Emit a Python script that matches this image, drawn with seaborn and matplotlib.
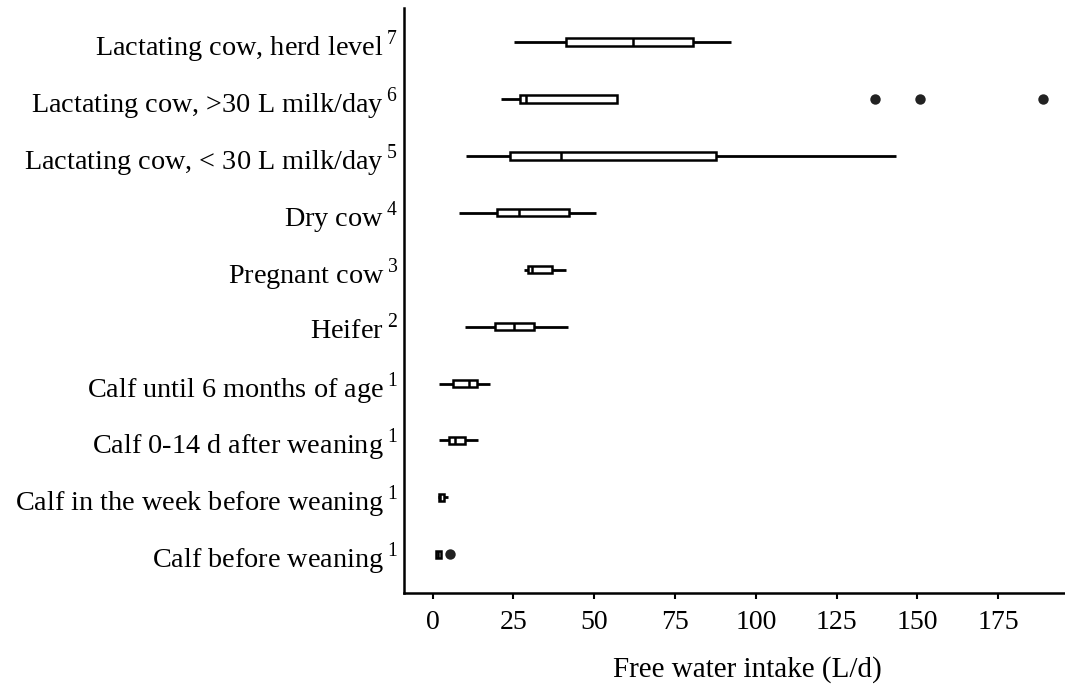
import numpy as np
import pandas as pd
import matplotlib
import matplotlib.pyplot as plt
import seaborn as sns
matplotlib.use('Agg')

# categories, top to bottom, with their footnote numbers
groups = ["Lactating cow, herd level", "Lactating cow, >30 L milk/day",
          "Lactating cow, < 30 L milk/day", "Dry cow", "Pregnant cow", "Heifer",
          "Calf until 6 months of age", "Calf 0-14 d after weaning",
          "Calf in the week before weaning", "Calf before weaning"]
footnotes = ["7", "6", "5", "4", "3", "2", "1", "1", "1", "1"]

# box statistics (L/d)
whisker_lo = [25.1, 21.0, 10.4, 8.1, 28.2, 9.9, 2.0, 2.0, 1.5, 0.9]
q1 = [41.2, 27.1, 24.0, 19.9, 29.5, 19.2, 6.3, 5.0, 1.9, 0.9]
median = [62.0, 29.0, 39.6, 26.7, 30.7, 25.2, 11.1, 6.8, 2.4, 1.6]
q3 = [80.5, 57.0, 87.6, 42.1, 36.9, 31.4, 13.7, 10.1, 3.4, 2.7]
whisker_hi = [92.3, 57.0, 143.3, 50.5, 41.2, 41.9, 17.6, 14.0, 4.8, 2.7]

outlier_group = ["Lactating cow, >30 L milk/day"] * 3 + ["Calf before weaning"]
outlier_value = [137.0, 150.8, 188.9, 5.3]

rows = []
for i, g in enumerate(groups):
    for v in (whisker_lo[i], q1[i], median[i], q3[i], whisker_hi[i]):
        rows.append({"group": g, "intake": v})
df = pd.DataFrame(rows)
df_out = pd.DataFrame({"group": outlier_group, "intake": outlier_value})

sns.set_style("white")
plt.rcParams['font.family'] = ['Liberation Serif', 'DejaVu Serif']
plt.rcParams['mathtext.fontset'] = 'custom'
plt.rcParams['mathtext.rm'] = 'Liberation Serif'
plt.rcParams['text.color'] = 'black'
plt.rcParams['xtick.color'] = 'black'
plt.rcParams['ytick.color'] = 'black'
plt.rcParams['axes.labelcolor'] = 'black'

fig = plt.figure(figsize=(10.65, 6.86), dpi=100)
ax = fig.add_axes([0.379, 0.1356, 0.621, 0.853])

sns.boxplot(data=df, x="intake", y="group", order=groups, ax=ax,
            width=0.13, color="white", linecolor="black", linewidth=1.8,
            whis=(0, 100), showcaps=False, fliersize=0,
            whiskerprops={"linewidth": 2.0})
sns.stripplot(data=df_out, x="intake", y="group", order=groups, ax=ax,
              jitter=False, color="#222222", size=7.5)

ax.set_xlim(-9.0, 195.7)
ax.set_ylim(9.68, -0.6)
ax.set_xticks([0, 25, 50, 75, 100, 125, 150, 175])
ax.set_yticks(range(len(groups)))
ax.set_yticklabels([f"{g}$\\,^{{{s}}}$" for g, s in zip(groups, footnotes)], fontsize=20.3)
ax.tick_params(axis="x", labelsize=20, length=4, width=1.5, direction="out", pad=8, bottom=True)
ax.tick_params(axis="y", length=0, pad=4)
ax.set_xlabel("Free water intake (L/d)", fontsize=21)
ax.xaxis.set_label_coords(0.519, -0.108)
ax.set_ylabel("")

for side in ["top", "right"]:
    ax.spines[side].set_visible(False)
for side in ["left", "bottom"]:
    ax.spines[side].set_linewidth(1.8)
    ax.spines[side].set_color("black")

plt.savefig("out.png", dpi=100)
plt.close()
